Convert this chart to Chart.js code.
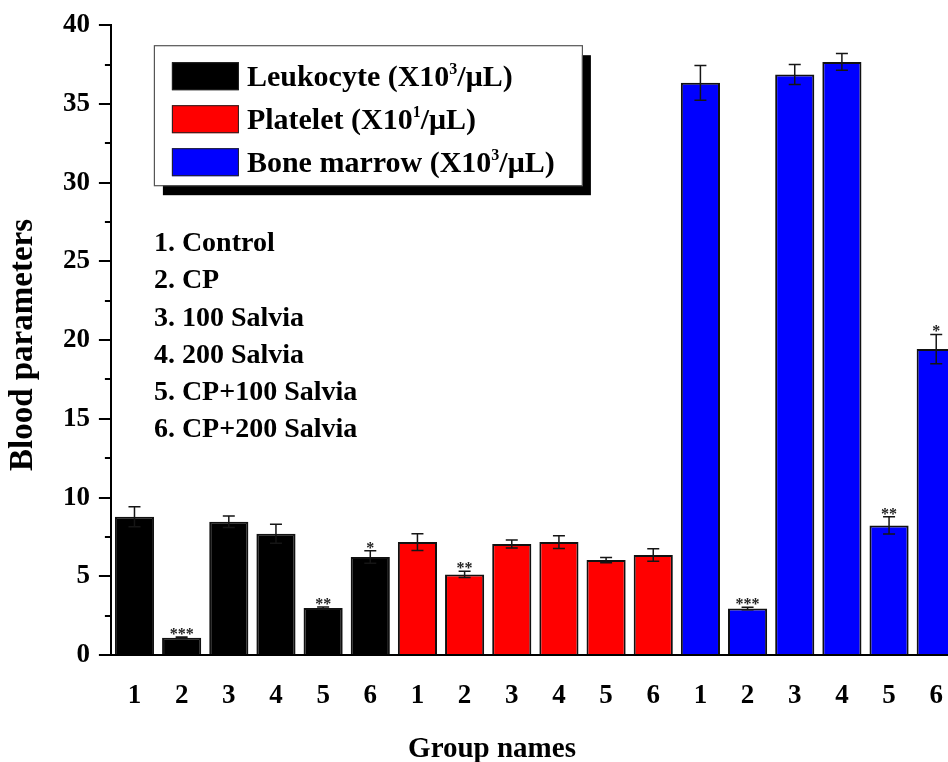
<!DOCTYPE html>
<html><head><meta charset="utf-8">
<script src="https://cdn.jsdelivr.net/npm/chart.js@4"></script>
<style>
html,body{margin:0;padding:0;background:#fff;overflow:hidden}
#wrap{width:948px;height:762px;overflow:hidden;position:relative;background:#fff}
canvas{display:block}
</style></head>
<body><div id="wrap"><canvas id="c" width="980" height="762" style="width:980px;height:762px"></canvas></div>
<script>
// ---- data ----
const groups = ['1', '2', '3', '4', '5', '6'];
const groupNames = ['Control', 'CP', '100 Salvia', '200 Salvia', 'CP+100 Salvia', 'CP+200 Salvia'];
const seriesNames = ['Leukocyte', 'Platelet', 'Bone marrow'];
const seriesExp = ['3', '1', '3'];
const seriesColors = ['#000000', '#ff0000', '#0000ff'];

const leukocyte     = [8.78, 1.10, 8.46, 7.70, 2.98, 6.22];
const leukocyteErr  = [0.63, 0.05, 0.37, 0.60, 0.07, 0.40];
const leukocyteSig  = ['', '***', '', '', '**', '*'];

const platelet      = [7.17, 5.12, 7.05, 7.17, 6.03, 6.35];
const plateletErr   = [0.53, 0.20, 0.25, 0.40, 0.17, 0.40];
const plateletSig   = ['', '**', '', '', '', ''];

const boneMarrow    = [36.34, 2.96, 36.87, 37.67, 8.23, 19.43];
const boneMarrowErr = [1.10, 0.08, 0.63, 0.53, 0.55, 0.93];
const boneMarrowSig = ['', '***', '', '', '**', '*'];

const yMin = 0, yMax = 40, yStep = 5, yMinorStep = 2.5;
const xTitle = 'Group names';
const yTitle = 'Blood parameters';

// ---- build ----
const FONT = "'Liberation Serif', 'Times New Roman', serif";
const allSeries = [leukocyte, platelet, boneMarrow];
const allErr = [leukocyteErr, plateletErr, boneMarrowErr];
const allSig = [leukocyteSig, plateletSig, boneMarrowSig];
const labels = [].concat(groups, groups, groups);
const n = groups.length;

const datasets = allSeries.map((vals, s) => {
  const data = labels.map(() => null);
  vals.forEach((v, i) => { data[s * n + i] = v; });
  const err = labels.map(() => null);
  allErr[s].forEach((v, i) => { err[s * n + i] = v; });
  const sig = labels.map(() => '');
  allSig[s].forEach((v, i) => { sig[s * n + i] = v; });
  return {
    label: seriesNames[s] + ' (X10' + seriesExp[s] + '/μL)',
    data, err, sig,
    backgroundColor: seriesColors[s],
    borderColor: '#111111',
    borderWidth: 2,
    borderSkipped: 'bottom',
    categoryPercentage: 1.0,
    barPercentage: 0.83,
    skipNull: true
  };
});

const extras = {
  id: 'extras',
  afterDatasetsDraw(chart) {
    const ctx = chart.ctx, y = chart.scales.y;
    ctx.save();
    chart.data.datasets.forEach((ds, di) => {
      const meta = chart.getDatasetMeta(di);
      ds.data.forEach((v, i) => {
        if (v === null) return;
        const el = meta.data[i];
        const e = ds.err[i];
        const yt = y.getPixelForValue(v + e), yb = y.getPixelForValue(v - e);
        ctx.strokeStyle = '#151515';
        ctx.lineWidth = 1.5;
        ctx.beginPath();
        ctx.moveTo(el.x, yt); ctx.lineTo(el.x, yb);
        ctx.moveTo(el.x - 6, yt); ctx.lineTo(el.x + 6, yt);
        ctx.moveTo(el.x - 6, yb); ctx.lineTo(el.x + 6, yb);
        ctx.stroke();
        if (ds.sig[i]) {
          ctx.fillStyle = '#222';
          ctx.font = 'bold 16px ' + FONT;
          ctx.textAlign = 'center';
          ctx.textBaseline = 'alphabetic';
          ctx.fillText(ds.sig[i], el.x, yt + 2);
        }
      });
    });
    ctx.restore();
  },
  afterDraw(chart) {
    const ctx = chart.ctx, y = chart.scales.y, ca = chart.chartArea;
    ctx.save();
    // minor ticks
    ctx.strokeStyle = '#000'; ctx.lineWidth = 2;
    for (let v = yMin + yMinorStep; v < yMax; v += yStep) {
      const py = Math.round(y.getPixelForValue(v));
      ctx.beginPath(); ctx.moveTo(ca.left - 6, py); ctx.lineTo(ca.left, py); ctx.stroke();
    }
    // legend box with shadow
    const bx = ca.left + 43, by = ca.top + 20, bw = 428, bh = 140;
    ctx.fillStyle = '#000';
    ctx.fillRect(bx + 9, by + 10, bw, bh);
    ctx.fillStyle = '#fff';
    ctx.fillRect(bx, by, bw, bh);
    ctx.strokeStyle = '#555'; ctx.lineWidth = 1.2;
    ctx.strokeRect(bx + 0.5, by + 0.5, bw, bh);
    chart.data.datasets.forEach((ds, s) => {
      const sy = by + 17 + s * 43;
      ctx.fillStyle = seriesColors[s];
      ctx.fillRect(bx + 18, sy, 67, 28);
      ctx.strokeStyle = '#222'; ctx.lineWidth = 1;
      ctx.strokeRect(bx + 18.5, sy + 0.5, 66, 27);
      ctx.fillStyle = '#000';
      ctx.textAlign = 'left'; ctx.textBaseline = 'alphabetic';
      const base = sy + 24;
      let tx = bx + 93;
      const mainFont = 'bold 30px ' + FONT, supFont = 'bold 16px ' + FONT;
      const t1 = seriesNames[s] + ' (X10';
      ctx.font = mainFont; ctx.fillText(t1, tx, base); tx += ctx.measureText(t1).width;
      ctx.font = supFont; ctx.fillText(seriesExp[s], tx, base - 12); tx += ctx.measureText(seriesExp[s]).width;
      ctx.font = mainFont; ctx.fillText('/μL)', tx, base);
    });
    // group list
    ctx.font = 'bold 28px ' + FONT;
    ctx.fillStyle = '#000'; ctx.textAlign = 'left'; ctx.textBaseline = 'alphabetic';
    groupNames.forEach((g, i) => {
      ctx.fillText(groups[i] + '. ' + g, ca.left + 43, ca.top + 226 + i * 37.2);
    });
    // axis titles
    ctx.font = 'bold 29px ' + FONT;
    ctx.textAlign = 'center';
    ctx.fillText(xTitle, 492, 757);
    ctx.save();
    ctx.translate(23, 345);
    ctx.rotate(-Math.PI / 2);
    ctx.font = 'bold 33px ' + FONT;
    ctx.textBaseline = 'middle';
    ctx.fillText(yTitle, 0, 0);
    ctx.restore();
    ctx.restore();
  }
};

new Chart(document.getElementById('c'), {
  type: 'bar',
  data: { labels, datasets },
  options: {
    responsive: false,
    animation: false,
    devicePixelRatio: 1,
    layout: { padding: { left: 0, right: 20.2, top: 25, bottom: 0 } },
    plugins: { legend: { display: false }, tooltip: { enabled: false }, title: { display: false } },
    scales: {
      x: {
        stacked: true,
        offset: true,
        grid: { display: false, drawTicks: false },
        border: { display: true, color: '#000', width: 2 },
        ticks: { color: '#000', font: { family: FONT, size: 27, weight: 'bold' }, padding: 25, maxRotation: 0, autoSkip: false },
        afterFit(scale) { scale.height = 107; }
      },
      y: {
        min: yMin, max: yMax,
        grid: { display: true, drawOnChartArea: false, drawTicks: true, tickLength: 12, color: '#000', lineWidth: 2 },
        border: { display: true, color: '#000', width: 2 },
        ticks: { stepSize: yStep, color: '#000', font: { family: FONT, size: 27, weight: 'bold' }, padding: 9 },
        afterFit(scale) { scale.width = 110.9; }
      }
    }
  },
  plugins: [extras]
});
</script></body></html>
